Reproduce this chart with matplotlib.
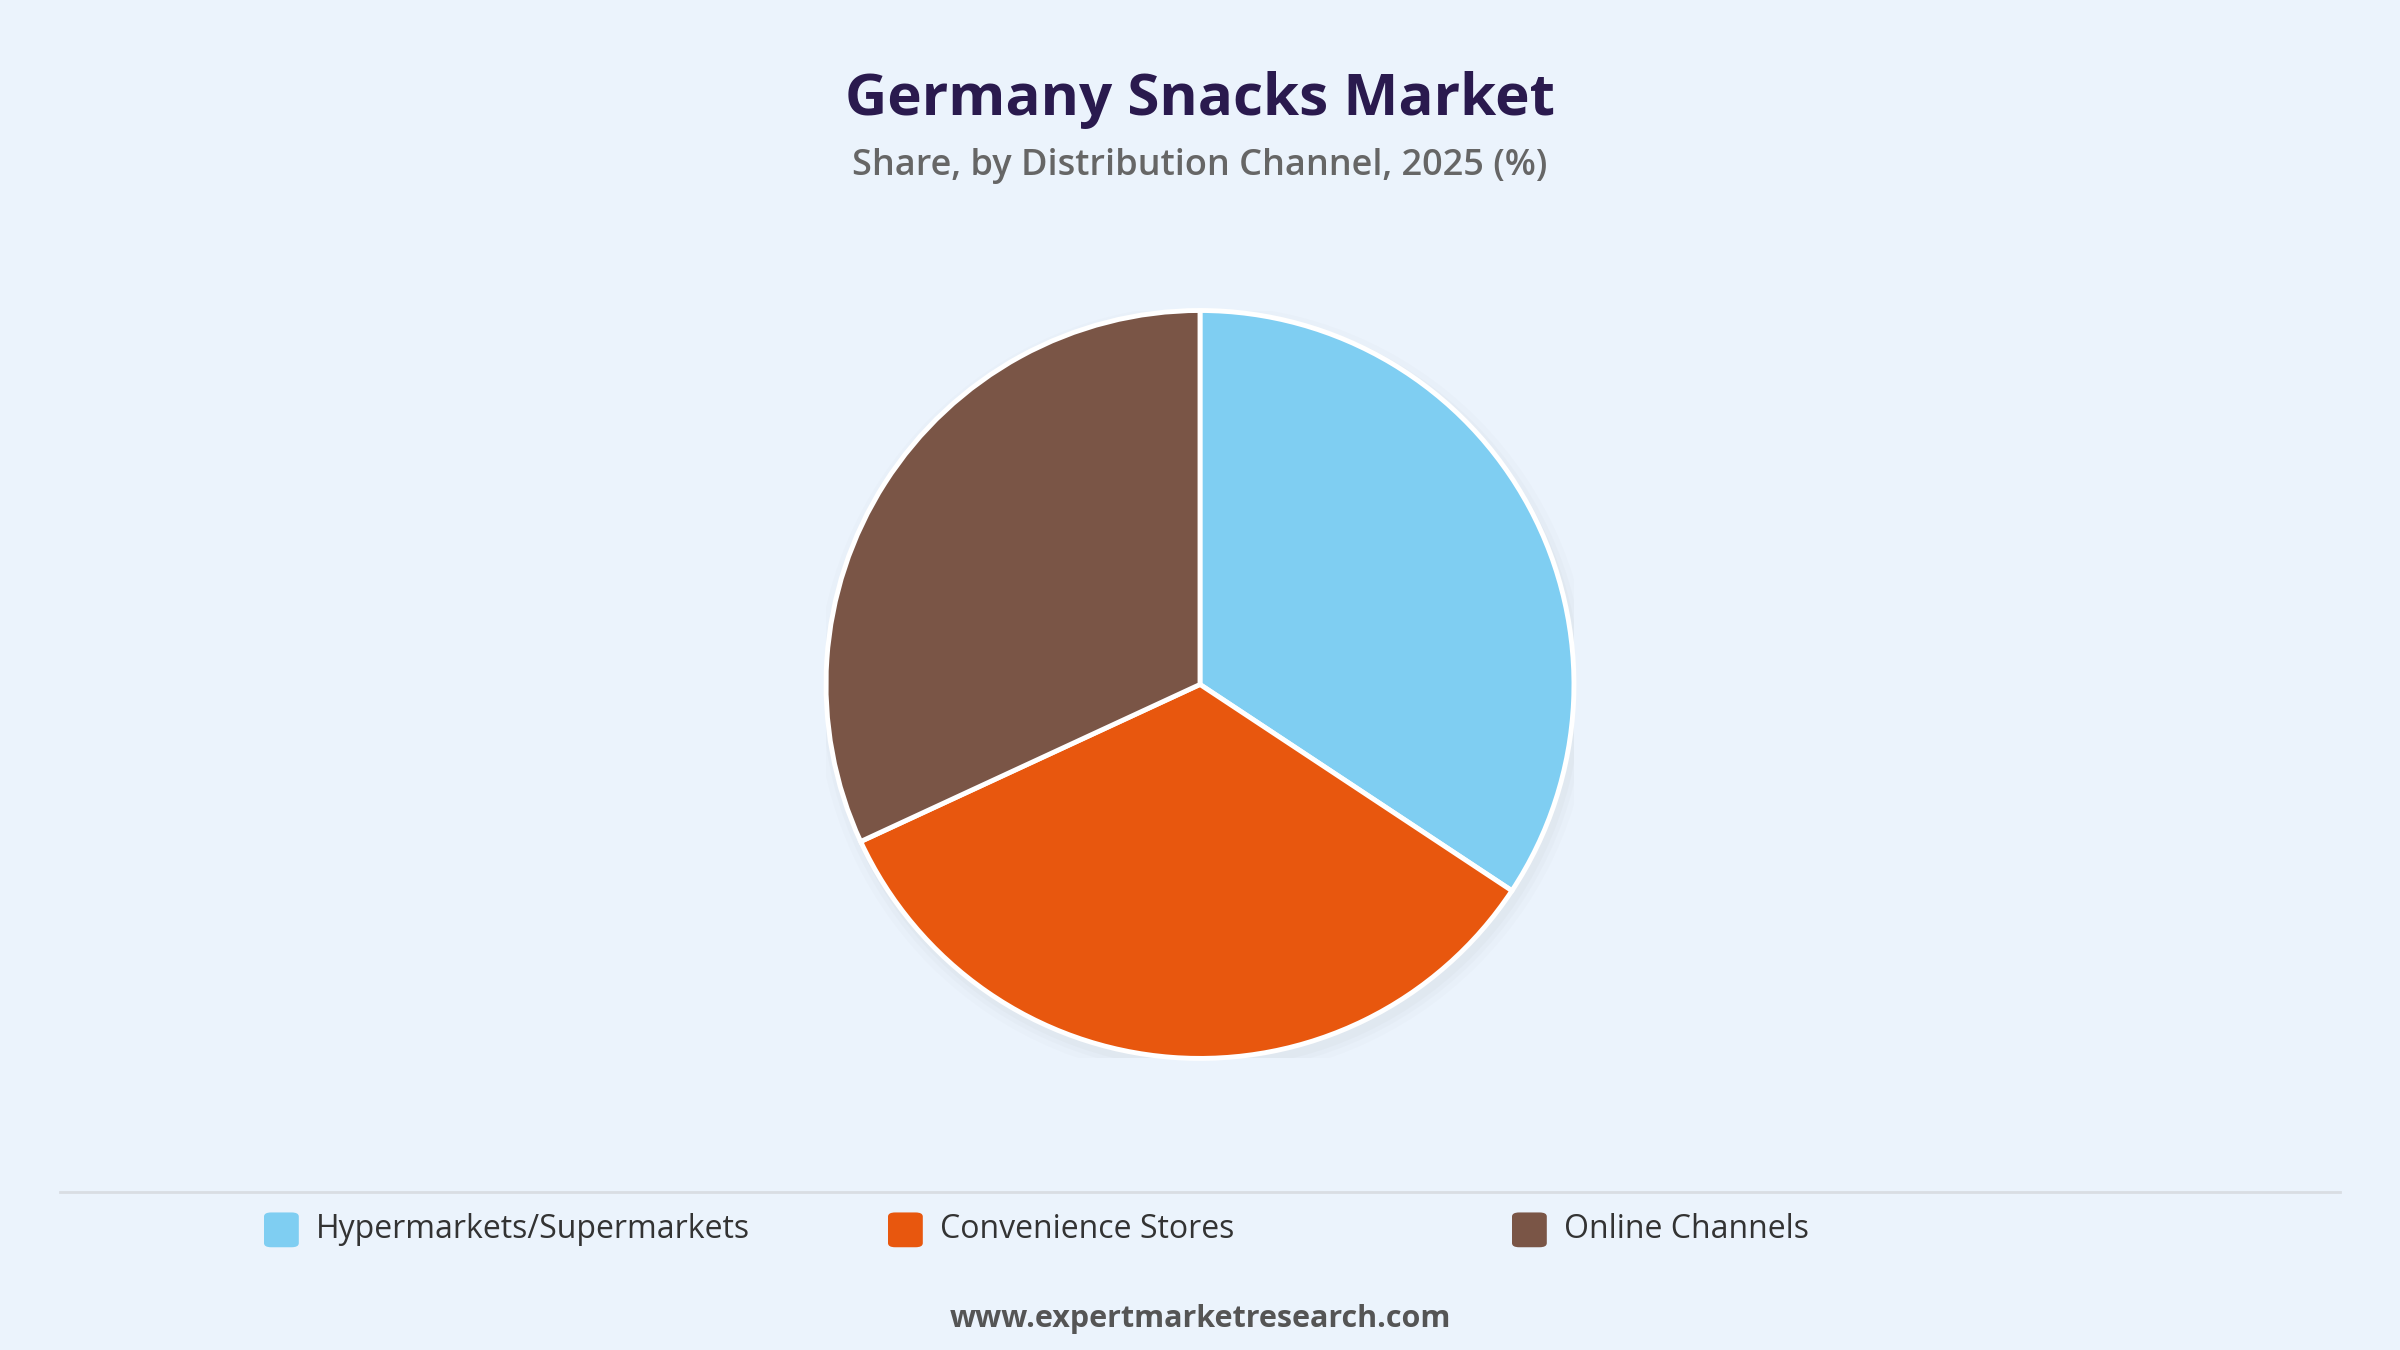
import matplotlib
matplotlib.use("Agg")
import matplotlib.pyplot as plt
from matplotlib.patches import Circle, FancyBboxPatch

categories = ["Hypermarkets/Supermarkets", "Convenience Stores", "Online Channels"]
values = [34.3, 33.8, 31.9]
colors = ["#7FCEF2", "#E8570E", "#7A5546"]

plt.rcParams['font.family'] = ['Open Sans', 'DejaVu Sans']
bg = "#EBF3FC"
fig = plt.figure(figsize=(24, 13.5), dpi=100, facecolor=bg)

fig.text(0.5, 0.926, "Germany Snacks Market", ha="center", va="center",
         fontsize=42, fontweight="bold", color="#2A1A4E")
fig.text(0.5, 0.877, "Share, by Distribution Channel, 2025 (%)", ha="center", va="center",
         fontsize=26, fontweight="semibold", color="#666666")

h = 0.554
w = h * 1350 / 2400
ax = fig.add_axes([0.5 - w / 2, 0.493 - h / 2, w, h])
ax.set_facecolor(bg)
for a, r in [(0.025, 1.035), (0.03, 1.02), (0.04, 1.008)]:
    ax.add_patch(Circle((0.01, -0.02), r, color="#888888", alpha=a, zorder=0, lw=0))
ax.pie(values, colors=colors, startangle=90, counterclock=False, radius=1,
       wedgeprops=dict(edgecolor="white", linewidth=3.5))
ax.set_xlim(-1.0, 1.0)
ax.set_ylim(-1.0, 1.0)
ax.set_aspect("equal")
ax.axis("off")

line_ax = fig.add_axes([0, 0, 1, 1], facecolor="none")
line_ax.set_xlim(0, 1); line_ax.set_ylim(0, 1); line_ax.axis("off")
line_ax.plot([0.025, 0.975], [0.117, 0.117], color="#D9DDE3", lw=2)

xs = [0.11, 0.37, 0.63]
sq_w = 0.0145
sq_h = sq_w * 2400 / 1350
for x, c, lab in zip(xs, colors, categories):
    line_ax.add_patch(FancyBboxPatch((x, 0.089 - sq_h / 2), sq_w, sq_h,
                                     boxstyle="round,pad=0,rounding_size=0.003",
                                     facecolor=c, edgecolor="none"))
    line_ax.text(x + sq_w + 0.007, 0.089, lab, va="center", ha="left",
                 fontsize=23, color="#333333")

fig.text(0.5, 0.023, "www.expertmarketresearch.com", ha="center", va="center",
         fontsize=22, fontweight="bold", color="#555555")

fig.savefig("out.png", dpi=100, facecolor=bg)
